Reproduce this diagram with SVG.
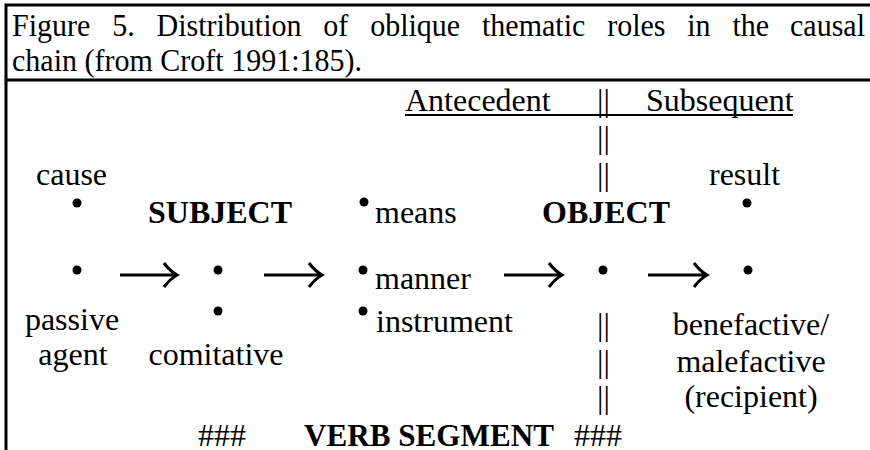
<svg xmlns="http://www.w3.org/2000/svg" width="870" height="450" viewBox="0 0 870 450">
  <style>
    .t { font-family: "Liberation Serif", "Times New Roman", serif; font-size: 32px; fill: #000; }
    .ttl { font-family: "Liberation Serif", "Times New Roman", serif; font-size: 32px; fill: #000; }
    .b { font-weight: bold; }
    .mid { text-anchor: middle; }
    .rule { stroke: #000; stroke-width: 3; fill: none; }
    .ul { stroke: #000; stroke-width: 2; }
    .dot { fill: #000; }
    .arrow { stroke: #000; stroke-width: 3; fill: none; }
  </style>
  <rect width="870" height="450" fill="#fff"/>

  <!-- table frame: top edge, left edge and caption separator -->
  <g id="frame">
    <path class="rule" d="M6,450 V5 H870"/>
    <path class="rule" d="M6,80 H870"/>
  </g>

  <!-- caption in a slightly narrowed face; first line justified word by word -->
  <g id="caption">
    <text class="ttl" y="36" lengthAdjust="spacingAndGlyphs" x="12" textLength="78.3">Figure</text>
    <text class="ttl" y="36" lengthAdjust="spacingAndGlyphs" x="112.2" textLength="22.5">5.</text>
    <text class="ttl" y="36" lengthAdjust="spacingAndGlyphs" x="156.5" textLength="145">Distribution</text>
    <text class="ttl" y="36" lengthAdjust="spacingAndGlyphs" x="323.3" textLength="25">of</text>
    <text class="ttl" y="36" lengthAdjust="spacingAndGlyphs" x="370.2" textLength="90">oblique</text>
    <text class="ttl" y="36" lengthAdjust="spacingAndGlyphs" x="482" textLength="103.3">thematic</text>
    <text class="ttl" y="36" lengthAdjust="spacingAndGlyphs" x="607.2" textLength="58.3">roles</text>
    <text class="ttl" y="36" lengthAdjust="spacingAndGlyphs" x="687.3" textLength="23.3">in</text>
    <text class="ttl" y="36" lengthAdjust="spacingAndGlyphs" x="732.5" textLength="36.7">the</text>
    <text class="ttl" y="36" lengthAdjust="spacingAndGlyphs" x="790" textLength="75">causal</text>
    <text class="ttl" x="12" y="71" lengthAdjust="spacingAndGlyphs" textLength="350">chain (from Croft 1991:185).</text>
  </g>

  <!-- antecedent / subsequent header and divider -->
  <g id="header">
    <line class="ul" x1="405" y1="115" x2="793" y2="115"/>
    <text class="t" x="405" y="111">Antecedent</text>
    <text class="t" x="646" y="111">Subsequent</text>
  </g>
  <g id="divider">
    <text class="t" x="597" y="111">||</text>
    <text class="t" x="597" y="148">||</text>
    <text class="t" x="597" y="185">||</text>
    <text class="t" x="597" y="335">||</text>
    <text class="t" x="597" y="372">||</text>
    <text class="t" x="597" y="408">||</text>
  </g>

  <g id="cause">
    <text class="t" x="36" y="185">cause</text>
    <circle class="dot" cx="77" cy="203" r="4.5"/>
  </g>
  <g id="subject">
    <text class="t b" x="148" y="223">SUBJECT</text>
  </g>
  <g id="means">
    <circle class="dot" cx="364" cy="202" r="4.5"/>
    <text class="t" x="375" y="223">means</text>
  </g>
  <g id="object">
    <text class="t b" x="542" y="223">OBJECT</text>
  </g>
  <g id="result">
    <text class="t" x="709" y="185">result</text>
    <circle class="dot" cx="747" cy="203" r="4.5"/>
  </g>

  <g id="passive-agent">
    <circle class="dot" cx="77" cy="270" r="4.5"/>
    <text class="t mid" x="72" y="330">passive</text>
    <text class="t mid" x="73" y="365">agent</text>
  </g>
  <g id="comitative">
    <circle class="dot" cx="218" cy="270" r="4.5"/>
    <circle class="dot" cx="218" cy="311" r="4.5"/>
    <text class="t mid" x="216" y="365">comitative</text>
  </g>
  <g id="manner-instrument">
    <circle class="dot" cx="363" cy="270" r="4.5"/>
    <text class="t" x="375" y="289">manner</text>
    <circle class="dot" cx="363" cy="311" r="4.5"/>
    <text class="t" x="376" y="332">instrument</text>
  </g>
  <g id="object-slot">
    <circle class="dot" cx="603" cy="270" r="4.5"/>
  </g>
  <g id="benefactive">
    <circle class="dot" cx="748" cy="270" r="4.5"/>
    <text class="t mid" x="751" y="335">benefactive/</text>
    <text class="t mid" x="751" y="372">malefactive</text>
    <text class="t mid" x="751" y="407">(recipient)</text>
  </g>

  <g id="verb-segment">
    <text class="t" x="198" y="446">###</text>
    <text class="t b" x="304" y="446" lengthAdjust="spacingAndGlyphs" textLength="250">VERB SEGMENT</text>
    <text class="t" x="574" y="446">###</text>
  </g>

  <!-- causal chain arrows -->
  <g id="connectors">
    <path class="arrow" d="M120,275 H176 M164,263 Q170,271 177,275 Q170,279 164,287"/>
    <path class="arrow" d="M264,275 H321 M309,263 Q315,271 322,275 Q315,279 309,287"/>
    <path class="arrow" d="M504,275 H561 M549,263 Q555,271 562,275 Q555,279 549,287"/>
    <path class="arrow" d="M648,275 H706 M694,263 Q700,271 707,275 Q700,279 694,287"/>
  </g>
</svg>
